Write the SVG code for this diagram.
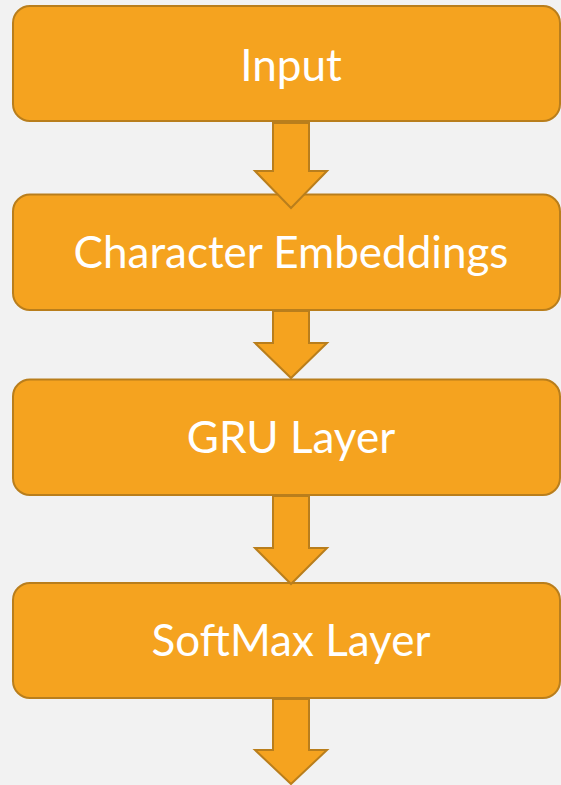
<svg xmlns="http://www.w3.org/2000/svg" width="561" height="785" viewBox="0 0 561 785">
  <defs>
    <style>
      .box { fill: #F5A31F; stroke: #B97E1C; stroke-width: 2; }
      .arrow { fill: #F5A31F; stroke: #B97E1C; stroke-width: 2; stroke-linejoin: miter; }
      .label { fill: #FFFFFF; font-family: "Lato", "Open Sans", "Liberation Sans", sans-serif; font-size: 44px; text-anchor: middle; }
    </style>
  </defs>
  <rect width="561" height="785" fill="#F2F2F2"/>

  <g id="node-input">
    <rect class="box" x="13" y="6" width="547" height="115" rx="17" ry="17"/>
    <text class="label" x="291" y="81">Input</text>
  </g>
  <g id="node-embeddings">
    <rect class="box" x="13" y="194.5" width="547" height="115.5" rx="17" ry="17"/>
    <text class="label" x="291" y="268">Character Embeddings</text>
  </g>
  <g id="node-gru">
    <rect class="box" x="13" y="379.5" width="547" height="115.5" rx="17" ry="17"/>
    <text class="label" x="291" y="453">GRU Layer</text>
  </g>
  <g id="node-softmax">
    <rect class="box" x="13" y="583" width="547" height="115" rx="17" ry="17"/>
    <text class="label" x="291" y="656">SoftMax Layer</text>
  </g>

  <g id="connectors">
    <polygon class="arrow" points="273,123 309,123 309,171 327,171 291,208 255,171 273,171"/>
    <polygon class="arrow" points="273,311 309,311 309,343 327,343 291,378 255,343 273,343"/>
    <polygon class="arrow" points="273,496 309,496 309,548 327,548 291,584 255,548 273,548"/>
    <polygon class="arrow" points="273,699 309,699 309,750 327,750 291,784 255,750 273,750"/>
  </g>
</svg>
